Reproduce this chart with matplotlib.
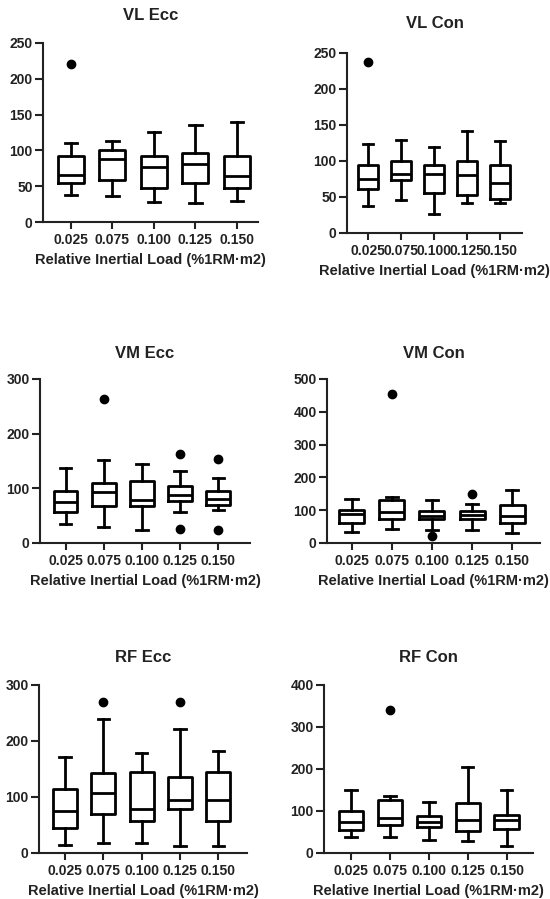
import matplotlib
matplotlib.use("Agg")
import matplotlib.pyplot as plt

plt.rcParams['font.family'] = ['Liberation Sans', 'DejaVu Sans']
plt.rcParams['font.weight'] = 'bold'

W, H = 550, 899
categories = ["0.025", "0.075", "0.100", "0.125", "0.150"]
xlabel = "Relative Inertial Load (%1RM·m2)"

# each box: (whisker_low, q1, median, q3, whisker_high)
vl_ecc = [(38, 55, 66, 92, 110), (37, 59, 88, 101, 113), (28, 47, 77, 92, 126),
          (26, 55, 81, 96, 135), (29, 47, 64, 92, 140)]
vl_ecc_out = [[221], [], [], [], []]

vl_con = [(37, 61, 75, 94, 124), (46, 73, 82, 100, 129), (26, 56, 82, 94, 120),
          (42, 53, 80, 100, 142), (42, 47, 70, 94, 128)]
vl_con_out = [[237], [], [], [], []]

vm_ecc = [(34, 57, 75, 96, 138), (29, 67, 93, 110, 151), (24, 68, 79, 113, 144),
          (56, 77, 88, 104, 131), (61, 70, 80, 95, 119)]
vm_ecc_out = [[], [263], [], [163, 26], [154, 23]]

vm_con = [(34, 61, 88, 102, 135), (44, 73, 93, 130, 140), (41, 73, 83, 97, 132),
          (41, 74, 85, 99, 119), (30, 61, 81, 117, 163)]
vm_con_out = [[], [455], [20], [150], []]

rf_ecc = [(14, 44, 75, 114, 172), (17, 69, 108, 143, 240), (17, 58, 78, 145, 178),
          (12, 78, 94, 136, 221), (12, 58, 95, 145, 182)]
rf_ecc_out = [[], [269], [], [270], []]

rf_con = [(38, 54, 73, 101, 149), (38, 67, 83, 127, 135), (32, 61, 73, 87, 121),
          (28, 53, 79, 119, 204), (16, 57, 79, 91, 150)]
rf_con_out = [[], [341], [], [], []]

panels = [
    ("VL Ecc", vl_ecc, vl_ecc_out, 250, 50, (43, 43, 258, 222), (0.33, 5.51), 15),
    ("VL Con", vl_con, vl_con_out, 250, 50, (347, 53, 522, 233), (0.355, 5.67), 23),
    ("VM Ecc", vm_ecc, vm_ecc_out, 300, 100, (40, 379, 250, 543), (0.33, 5.83), 353),
    ("VM Con", vm_con, vm_con_out, 500, 100, (327, 379, 540, 543), (0.39, 5.69), 353),
    ("RF Ecc", rf_ecc, rf_ecc_out, 300, 100, (39, 685, 247, 853), (0.32, 5.75), 658),
    ("RF Con", rf_con, rf_con_out, 400, 100, (324, 685, 533, 853), (0.31, 5.68), 658),
]

fig = plt.figure(figsize=(W / 100, H / 100), dpi=100)
fig.patch.set_facecolor("white")

for title, data, outs, ymax, ystep, (l, t, r, b), xlim, ty in panels:
    ax = fig.add_axes([l / W, 1 - b / H, (r - l) / W, (b - t) / H])
    stats = []
    for (lo, q1, med, q3, hi), fl in zip(data, outs):
        stats.append(dict(whislo=lo, q1=q1, med=med, q3=q3, whishi=hi, fliers=fl))
    lw = 2.0
    ax.bxp(stats, positions=range(1, 6), widths=0.62, capwidths=0.3,
           boxprops=dict(color="black", linewidth=lw),
           whiskerprops=dict(color="black", linewidth=lw),
           capprops=dict(color="black", linewidth=lw),
           medianprops=dict(color="black", linewidth=lw),
           flierprops=dict(marker="o", markerfacecolor="black", markeredgecolor="black",
                           markersize=6))
    ax.set_xlim(*xlim)
    ax.set_ylim(0, ymax)
    ax.set_yticks(range(0, ymax + 1, ystep))
    ax.set_xticks(range(1, 6))
    ax.set_xticklabels(categories)
    for s in ("top", "right"):
        ax.spines[s].set_visible(False)
    for s in ("left", "bottom"):
        ax.spines[s].set_linewidth(1.5)
        ax.spines[s].set_color("#222222")
    ax.tick_params(axis="x", width=1.5, length=5, color="#222222",
                   labelsize=10, labelcolor="#222222", pad=3)
    ax.tick_params(axis="y", width=1.5, length=6, color="#222222",
                   labelsize=10, labelcolor="#222222", pad=1.5)
    ax.set_xlabel(xlabel, fontsize=10.5, fontweight="bold", color="#222222", labelpad=4)
    fig.text((l + r) / 2 / W, 1 - ty / H, title, ha="center", va="center",
             fontsize=12, fontweight="bold", color="#222222")

fig.savefig("out.png", dpi=100, facecolor="white")
